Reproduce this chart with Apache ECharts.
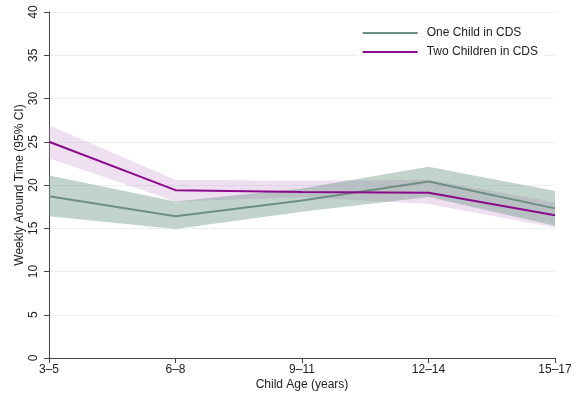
<!DOCTYPE html>
<html>
<head>
<meta charset="utf-8">
<script src="https://cdn.jsdelivr.net/npm/echarts@6/dist/echarts.min.js"></script>
<style>html,body{margin:0;padding:0;background:#fff}#c{width:582px;height:399px}</style>
</head>
<body>
<div id="c"></div>
<script>
var categories = ['3\u20135', '6\u20138', '9\u201311', '12\u201314', '15\u201317'];
var yTicks = [0, 5, 10, 15, 20, 25, 30, 35, 40];
var oneChild = [18.7, 16.4, 18.2, 20.4, 17.3];
var oneChildLow = [16.4, 14.9, 16.9, 18.6, 15.3];
var oneChildHigh = [21.1, 18.1, 19.6, 22.1, 19.3];
var twoChildren = [25.0, 19.4, 19.2, 19.1, 16.5];
var twoChildrenLow = [23.1, 18.1, 18.6, 17.8, 15.1];
var twoChildrenHigh = [26.9, 20.6, 20.5, 20.6, 18.0];

var font = 'Liberation Sans, Arial, Helvetica, sans-serif';
function diff(h, l) { return h.map(function (v, i) { return +(v - l[i]).toFixed(2); }); }

var chart = echarts.init(document.getElementById('c'), null, { renderer: 'canvas' });
chart.setOption({
  animation: false,
  backgroundColor: '#fff',
  grid: { left: 49, right: 27, top: 12, bottom: 41 },
  legend: {
    top: 23, right: 38,
    orient: 'vertical',
    itemWidth: 55, itemHeight: 2, itemGap: 7,
    backgroundColor: '#fff',
    padding: [4, 6, 4, 6],
    icon: 'rect',
    textStyle: { fontFamily: font, fontSize: 12, color: '#222', padding: [0, 0, 0, 4] },
    data: ['One Child in CDS', 'Two Children in CDS']
  },
  xAxis: {
    type: 'category', data: categories, boundaryGap: false,
    name: 'Child Age (years)', nameLocation: 'middle', nameGap: 21, nameMoveOverlap: false,
    nameTextStyle: { fontFamily: font, fontSize: 12, color: '#222' },
    axisLine: { lineStyle: { color: '#444', width: 1 } },
    axisTick: { show: true, length: 5, alignWithLabel: true, lineStyle: { color: '#444' } },
    axisLabel: { fontFamily: font, fontSize: 12, color: '#222', margin: 6 },
    splitLine: { show: false }
  },
  yAxis: {
    type: 'value', min: yTicks[0], max: yTicks[yTicks.length - 1], interval: 5,
    name: 'Weekly Around Time (95% CI)', nameLocation: 'middle', nameGap: 23, nameRotate: 90, nameMoveOverlap: false,
    nameTextStyle: { fontFamily: font, fontSize: 12, color: '#222' },
    axisLine: { show: true, lineStyle: { color: '#444', width: 1 } },
    axisTick: { show: true, length: 5, lineStyle: { color: '#444' } },
    axisLabel: { fontFamily: font, fontSize: 12, color: '#222', rotate: 90, margin: 9 },
    splitLine: { show: true, lineStyle: { color: '#e8f0f0', width: 1 } }
  },
  series: [
    { name: 'pLow', type: 'line', stack: 'p', data: twoChildrenLow, symbol: 'none', lineStyle: { opacity: 0 }, silent: true, z: 1 },
    { name: 'pBand', type: 'line', stack: 'p', data: diff(twoChildrenHigh, twoChildrenLow), symbol: 'none', lineStyle: { opacity: 0 }, areaStyle: { color: 'rgba(200,150,210,0.3)', opacity: 1 }, silent: true, z: 1 },
    { name: 'gLow', type: 'line', stack: 'g', data: oneChildLow, symbol: 'none', lineStyle: { opacity: 0 }, silent: true, z: 2 },
    { name: 'gBand', type: 'line', stack: 'g', data: diff(oneChildHigh, oneChildLow), symbol: 'none', lineStyle: { opacity: 0 }, areaStyle: { color: 'rgba(110,150,130,0.42)', opacity: 1 }, silent: true, z: 2 },
    { name: 'One Child in CDS', type: 'line', data: oneChild, symbol: 'none', color: '#6e8f80', lineStyle: { color: '#6e8f80', width: 2 }, z: 3 },
    { name: 'Two Children in CDS', type: 'line', data: twoChildren, symbol: 'none', color: '#8b0a8b', lineStyle: { color: '#8b0a8b', width: 2 }, z: 4 }
  ]
});
</script>
</body>
</html>
